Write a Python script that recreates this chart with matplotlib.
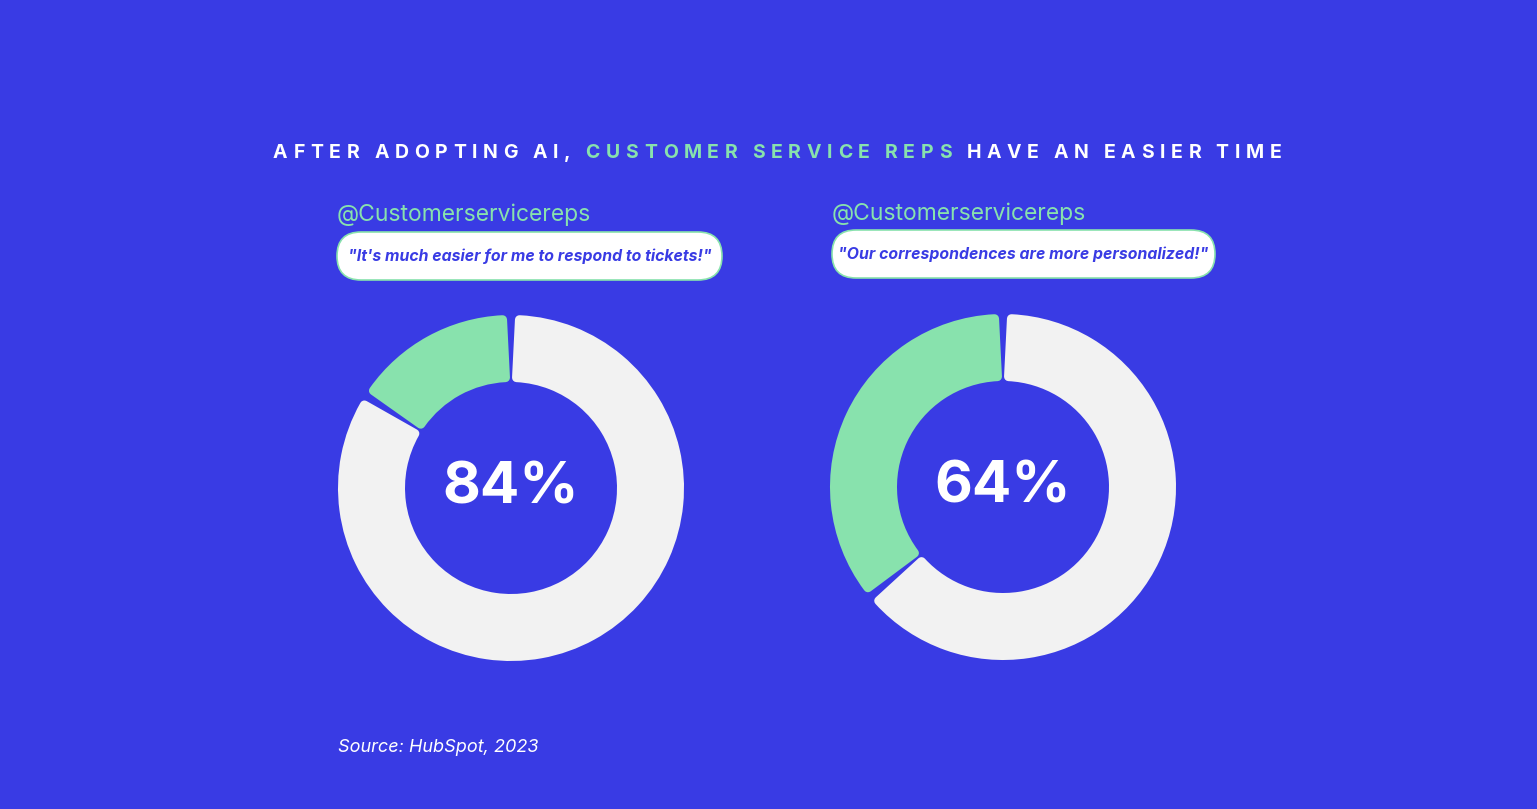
import numpy as np
import matplotlib
matplotlib.use("Agg")
import matplotlib.pyplot as plt
from matplotlib import font_manager
from matplotlib.patches import FancyBboxPatch

# ---- data ----
title_parts = ["AFTER ADOPTING AI, ", "CUSTOMER SERVICE REPS", " HAVE AN EASIER TIME"]
handles = ["@Customerservicereps", "@Customerservicereps"]
quotes = ['"It\'s much easier for me to respond to tickets!"',
          '"Our correspondences are more personalized!"']
green_share = [16, 36]
white_share = [84, 64]
center_labels = ["84%", "64%"]
source_text = "Source: HubSpot, 2023"

# ---- style ----
BG = "#393BE4"
GREEN = "#88E2AD"
RING = "#F2F2F2"
WHITE = "#FFFFFF"

W_PX, H_PX = 1537, 809
PREFERRED = ["Inter", "Roboto", "Noto Sans", "Open Sans", "Lato", "DejaVu Sans"]


def weight_num(w):
    if isinstance(w, str):
        return font_manager.weight_dict.get(w, 400)
    return w


def pick_family(style="normal", min_weight=0, max_weight=1000):
    for fam in PREFERRED:
        for f in font_manager.fontManager.ttflist:
            if f.name == fam and f.style == style and min_weight <= weight_num(f.weight) <= max_weight:
                return fam
    return "DejaVu Sans"


FAM_BOLD = pick_family("normal", 600)
FAM_REG = pick_family("normal", 300, 500)
FAM_BOLD_IT = pick_family("italic", 600)
FAM_IT = pick_family("italic", 300, 500)


def Y(py):
    return H_PX - py


def tracked_text(ax, x, y, parts, colors, size, tracking_pt, space_pt):
    # draw each letter on its own so the caps get wide letter spacing
    prev = None
    extra = 0
    for text, color in zip(parts, colors):
        for ch in text:
            if ch == " ":
                extra += space_pt
                continue
            if prev is None:
                prev = ax.text(x, y, ch, color=color, fontsize=size, fontweight="bold",
                               family=FAM_BOLD, ha="left", va="bottom")
            else:
                prev = ax.annotate(ch, xy=(1, 0), xycoords=prev,
                                   xytext=(tracking_pt + extra, 0), textcoords="offset points",
                                   color=color, fontsize=size, fontweight="bold",
                                   family=FAM_BOLD, ha="left", va="bottom")
            extra = 0


fig = plt.figure(figsize=(W_PX / 100, H_PX / 100), dpi=100, facecolor=BG)
ax = fig.add_axes([0, 0, 1, 1])
ax.set_facecolor(BG)

centers = [(511, Y(488)), (1003, Y(487))]
R_OUT, R_IN = 173, 106
corner = 4.5
gap = 5

for i, c in enumerate(centers):
    wedges, _ = ax.pie([green_share[i], white_share[i]], colors=[GREEN, RING],
                       startangle=90, counterclock=True, center=c, radius=R_OUT,
                       wedgeprops=dict(width=R_OUT - R_IN))
    r_mid = (R_OUT + R_IN) / 2
    shrink = np.degrees((gap / 2 + corner) / r_mid)
    for w in wedges:
        # pull the wedge in so a round stroke gives soft corners and a gap
        w.set_theta1(w.theta1 + shrink)
        w.set_theta2(w.theta2 - shrink)
        w.set_radius(R_OUT - corner)
        w.set_width(R_OUT - R_IN - 2 * corner)
        w.set_edgecolor(w.get_facecolor())
        w.set_linewidth(2 * corner * 0.72)
        w.set_joinstyle("round")

    ax.text(c[0], c[1], center_labels[i], color=WHITE, fontsize=42, fontweight="bold",
            family=FAM_BOLD, ha="center", va="center")

# handles and quote bubbles
bubble_x = [337, 832]
bubble_y = [232, 230]
bubble_w = [385, 383]
bubble_h = 48
handle_y = [215, 214]
for i in range(2):
    ax.text(bubble_x[i], Y(handle_y[i]), handles[i], color=GREEN, fontsize=16.5,
            family=FAM_REG, ha="left", va="center")
    box = FancyBboxPatch((bubble_x[i], Y(bubble_y[i] + bubble_h)), bubble_w[i], bubble_h,
                         boxstyle="round,pad=0,rounding_size=24", facecolor=WHITE,
                         edgecolor=GREEN, linewidth=1.2)
    ax.add_patch(box)
    ax.text(bubble_x[i] + bubble_w[i] / 2, Y(bubble_y[i] + bubble_h / 2), quotes[i],
            color=BG, fontsize=11.4, fontweight="bold", style="italic",
            family=FAM_BOLD_IT, ha="center", va="center")

# title with letter spacing
tracked_text(ax, 273, Y(162), title_parts, [WHITE, GREEN, WHITE], 14, 4.15, 6.4)

ax.text(338, Y(747), source_text, color=WHITE, fontsize=13, style="italic",
        family=FAM_IT, ha="left", va="center")

ax.set_xlim(0, W_PX)
ax.set_ylim(0, H_PX)
ax.set_aspect("auto")
ax.axis("off")

fig.savefig("out.png", dpi=100, facecolor=BG)
